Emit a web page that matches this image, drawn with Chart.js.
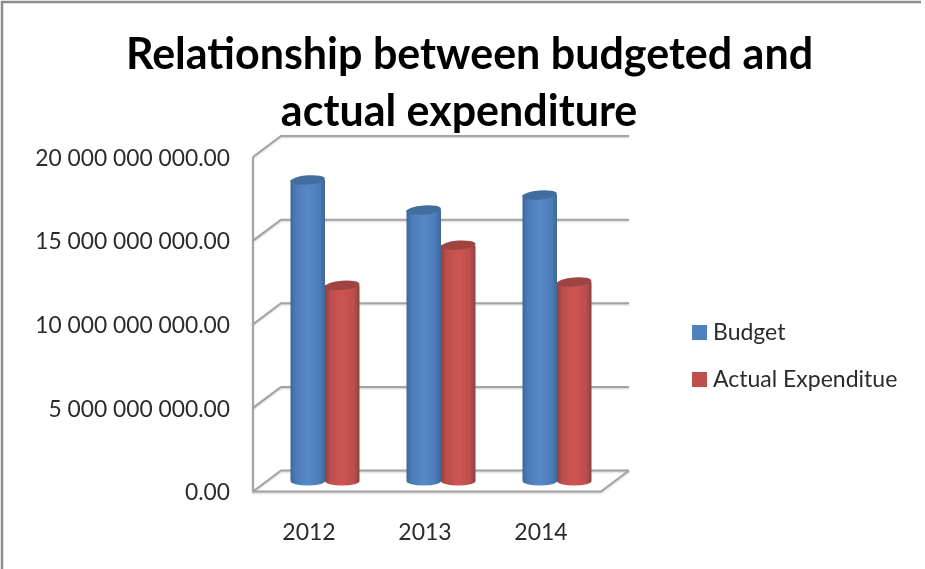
<!DOCTYPE html>
<html>
<head>
<meta charset="utf-8">
<title>Relationship between budgeted and actual expenditure</title>
<script src="https://cdn.jsdelivr.net/npm/chart.js@4"></script>
<style>
    html, body { margin: 0; padding: 0; background: #fff; }
    canvas { display: block; }
</style>
</head>
<body>
<canvas id="chart" width="925" height="569"></canvas>
<script>
const years = ['2012', '2013', '2014'];
const budget = [18000000000, 16200000000, 17100000000];
const actual = [11700000000, 14100000000, 11900000000];

const textFont = 'Lato, "Open Sans", sans-serif';

// Depth of the fake 3D box, measured from the plane the bars stand in
const depthX = 14;
const depthY = 10.5;

function formatMoney(value) {
    return value.toFixed(2).replace(/\B(?=(\d{3})+(?!\d))/g, ' ');
}

// Walls and floor of the box: grid lines at the back, slanted side to the front
const boxFrame = {
    id: 'boxFrame',
    beforeDraw(chart) {
        const { ctx } = chart;

        // Outer border, only top and left are visible
        ctx.save();
        ctx.strokeStyle = '#8c8c8c';
        ctx.lineWidth = 2.5;
        ctx.beginPath();
        ctx.moveTo(2, 569);
        ctx.lineTo(2, 2);
        ctx.lineTo(921, 2);
        ctx.stroke();
        ctx.restore();
    },
    beforeDatasetsDraw(chart) {
        const { ctx, chartArea } = chart;
        const yScale = chart.scales.y;
        const frontLeft = chartArea.left - depthX;
        const backLeft = chartArea.left + depthX;
        const backRight = chartArea.right + depthX;
        const frontRight = chartArea.right - depthX;

        ctx.save();
        ctx.strokeStyle = '#a3a3a3';
        ctx.lineWidth = 2;
        ctx.shadowColor = 'rgba(0,0,0,0.2)';
        ctx.shadowBlur = 2;
        ctx.shadowOffsetY = 1;

        yScale.ticks.forEach(tick => {
            const y = yScale.getPixelForValue(tick.value);
            ctx.beginPath();
            ctx.moveTo(frontLeft, y + depthY);
            ctx.lineTo(backLeft, y - depthY);
            ctx.lineTo(backRight, y - depthY);
            ctx.stroke();
        });

        const top = yScale.getPixelForValue(yScale.max);
        const zero = yScale.getPixelForValue(0);
        ctx.beginPath();
        ctx.moveTo(frontLeft, top + depthY);
        ctx.lineTo(frontLeft, zero + depthY);
        ctx.lineTo(frontRight, zero + depthY);
        ctx.lineTo(backRight, zero - depthY);
        ctx.stroke();
        ctx.restore();
    }
};

// Draws each bar element as a shaded cylinder instead of a flat rectangle
const cylinders = {
    id: 'cylinders',
    beforeDatasetDraw(chart, args) {
        const { ctx } = chart;
        const dataset = chart.data.datasets[args.index];
        const tilt = -0.08;
        const ry = 4.6;

        args.meta.data.forEach(bar => {
            const { x, y, base, width } = bar.getProps(['x', 'y', 'base', 'width'], true);
            const left = x - width / 2;
            const right = x + width / 2;
            const shade = ctx.createLinearGradient(left, 0, right, 0);
            shade.addColorStop(0, dataset.edgeColor);
            shade.addColorStop(0.16, dataset.midColor);
            shade.addColorStop(0.5, dataset.lightColor);
            shade.addColorStop(0.84, dataset.midColor);
            shade.addColorStop(1, dataset.edgeColor);

            ctx.save();
            ctx.fillStyle = shade;
            ctx.beginPath();
            ctx.moveTo(left, y);
            ctx.lineTo(left, base);
            ctx.ellipse(x, base, width / 2, ry, 0, Math.PI, 0, true);
            ctx.lineTo(right, y);
            ctx.closePath();
            ctx.fill();

            ctx.fillStyle = dataset.capColor;
            ctx.beginPath();
            ctx.ellipse(x, y, width / 2, ry, tilt, 0, Math.PI * 2);
            ctx.fill();
            ctx.restore();
        });
        return false;
    }
};

const sideLegend = {
    id: 'sideLegend',
    afterDraw(chart) {
        const { ctx } = chart;
        const rows = [333, 380];
        ctx.save();
        ctx.font = '23px ' + textFont;
        ctx.textBaseline = 'middle';
        chart.data.datasets.forEach((dataset, i) => {
            ctx.fillStyle = dataset.backgroundColor;
            ctx.fillRect(692, rows[i] - 8, 15, 15);
            ctx.fillStyle = '#2b2b2b';
            ctx.fillText(dataset.label, 713, rows[i]);
        });
        ctx.restore();
    }
};

new Chart(document.getElementById('chart'), {
    type: 'bar',
    data: {
        labels: years,
        datasets: [
            {
                label: 'Budget',
                data: budget,
                backgroundColor: '#4f81bd',
                edgeColor: '#3d6797',
                midColor: '#4c7dba',
                lightColor: '#5689ca',
                capColor: '#416d9f'
            },
            {
                label: 'Actual Expenditue',
                data: actual,
                backgroundColor: '#c0504d',
                edgeColor: '#8f403e',
                midColor: '#bc4f4c',
                lightColor: '#cf5552',
                capColor: '#9e4542'
            }
        ]
    },
    options: {
        responsive: false,
        animation: false,
        categoryPercentage: 0.595,
        barPercentage: 1,
        layout: { padding: { left: 14, right: 0, top: 0, bottom: 0 } },
        plugins: {
            legend: { display: false },
            tooltip: { enabled: false },
            title: {
                display: true,
                // the trailing spaces nudge the second line a little to the left
                text: ['Relationship between budgeted and', 'actual expenditure  '],
                color: '#000',
                font: { family: textFont, size: 43, weight: 'bold', lineHeight: 57 / 43 },
                padding: { top: 27, bottom: 5.5 }
            }
        },
        scales: {
            x: {
                grid: { display: false, drawTicks: false },
                border: { display: false },
                afterFit(scale) { scale.height = 88; },
                ticks: {
                    color: '#2b2b2b',
                    font: { family: textFont, size: 23 },
                    padding: 38,
                    labelOffset: -16,
                    maxRotation: 0,
                    autoSkip: false
                }
            },
            y: {
                min: 0,
                max: 20000000000,
                grid: { display: false, drawTicks: false },
                border: { display: false },
                afterFit(scale) { scale.width = 253; },
                ticks: {
                    stepSize: 5000000000,
                    color: '#2b2b2b',
                    font: { family: textFont, size: 22.8 },
                    padding: 37,
                    labelOffset: 12,
                    callback: value => formatMoney(value)
                }
            },
            // keeps the room on the right free for the legend
            ySpacer: {
                axis: 'y',
                position: 'right',
                grid: { display: false, drawTicks: false },
                border: { display: false },
                ticks: { display: false },
                afterFit(scale) { scale.width = 310; }
            }
        }
    },
    plugins: [boxFrame, cylinders, sideLegend]
});
</script>
</body>
</html>
